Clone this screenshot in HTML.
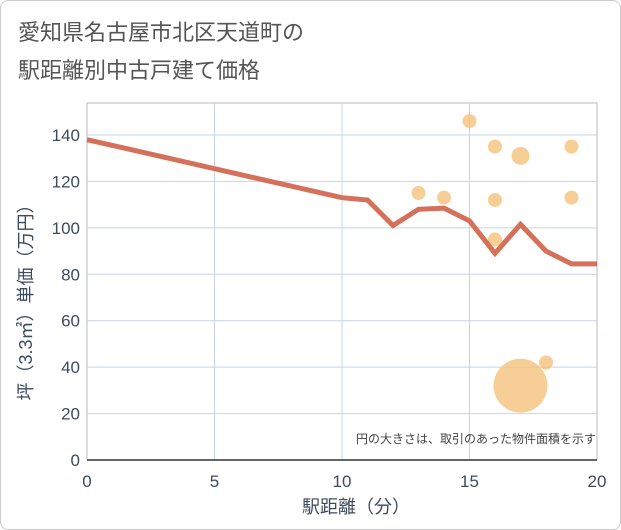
<!DOCTYPE html>
<html><head><meta charset="utf-8"><style>
body{margin:0;background:#fff;font-family:"Liberation Sans","Noto Sans CJK JP",sans-serif;}
#wrap{position:relative;width:619px;height:528px;border:1px solid #ccc;border-radius:8px;overflow:hidden;background:#fff}
</style></head><body>
<div id="wrap">
<svg id="chart" width="621" height="530" style="position:absolute;left:-1px;top:-1px">
<text x="18" y="40" font-size="22" fill="#555">愛知県名古屋市北区天道町の</text>
<text x="18" y="78" font-size="22" fill="#555">駅距離別中古戸建て価格</text>
<g id="grid"></g><g id="axes"></g><g id="marks"></g>
<text x="596" y="443" font-size="12" fill="#444" text-anchor="end">円の大きさは、取引のあった物件面積を示す</text>
<text x="356" y="513" font-size="18" fill="#3d4b5e" text-anchor="middle">駅距離（分）</text>
<text transform="translate(32,298) rotate(-90)" font-size="18" fill="#3d4b5e" text-anchor="middle">坪（3.3㎡）単価（万円）</text>
</svg></div>
<script>
const xTicks=[0,5,10,15,20];
const yTicks=[0,20,40,60,80,100,120,140];
const lineX=[0,10,11,12,13,14,15,16,17,18,19,20];
const lineY=[138,113,112,101,108,108.5,103,89,101.5,90,84.5,84.5];
const bubX=[15,16,17,19,13,14,16,19,16,18,17];
const bubY=[146,135,131,135,115,113,112,113,95,42,32];
const bubR=[7,7,9,7,7,7,7,7,7,7,27];
const NS="http://www.w3.org/2000/svg";
const x=v=>87+v*(597-87)/20, y=v=>460-v*(460-135)/140;
function mk(t,a,p){const e=document.createElementNS(NS,t);for(const k in a)e.setAttribute(k,a[k]);p.appendChild(e);return e;}
const G=document.getElementById('grid'),A=document.getElementById('axes'),M=document.getElementById('marks');
mk('rect',{x:87,y:103,width:510,height:357,fill:'none',stroke:'#bbb','stroke-width':1},G);
yTicks.forEach(v=>{const l=mk('line',{x1:87,x2:597,y1:y(v),y2:y(v),stroke:'#c8d4e3'},G);


const t=mk('text',{x:80,y:y(v)+6,'font-size':17,fill:'#3d4b5e','text-anchor':'end'},A);t.textContent=v;

});
xTicks.forEach(v=>{if(v>0&&v<20){const l=mk('line',{x1:x(v),x2:x(v),y1:103,y2:460,stroke:'#c8d4e3'},G);

}
const t=mk('text',{x:x(v),y:487,'font-size':17,fill:'#3d4b5e','text-anchor':'middle'},A);t.textContent=v;

});
const ax=mk('line',{x1:87,x2:597,y1:460,y2:460,stroke:'#333','stroke-width':1.5},A);


bubX.forEach((v,i)=>{const c=mk('circle',{cx:x(v),cy:y(bubY[i]),r:bubR[i],fill:'#f5c27a','fill-opacity':0.8},M);

});
const pl=mk('polyline',{points:lineX.map((v,i)=>x(v)+','+y(lineY[i])).join(' '),fill:'none',stroke:'#d5705a','stroke-width':5,'stroke-linejoin':'miter'},M);


</script>
</body></html>
